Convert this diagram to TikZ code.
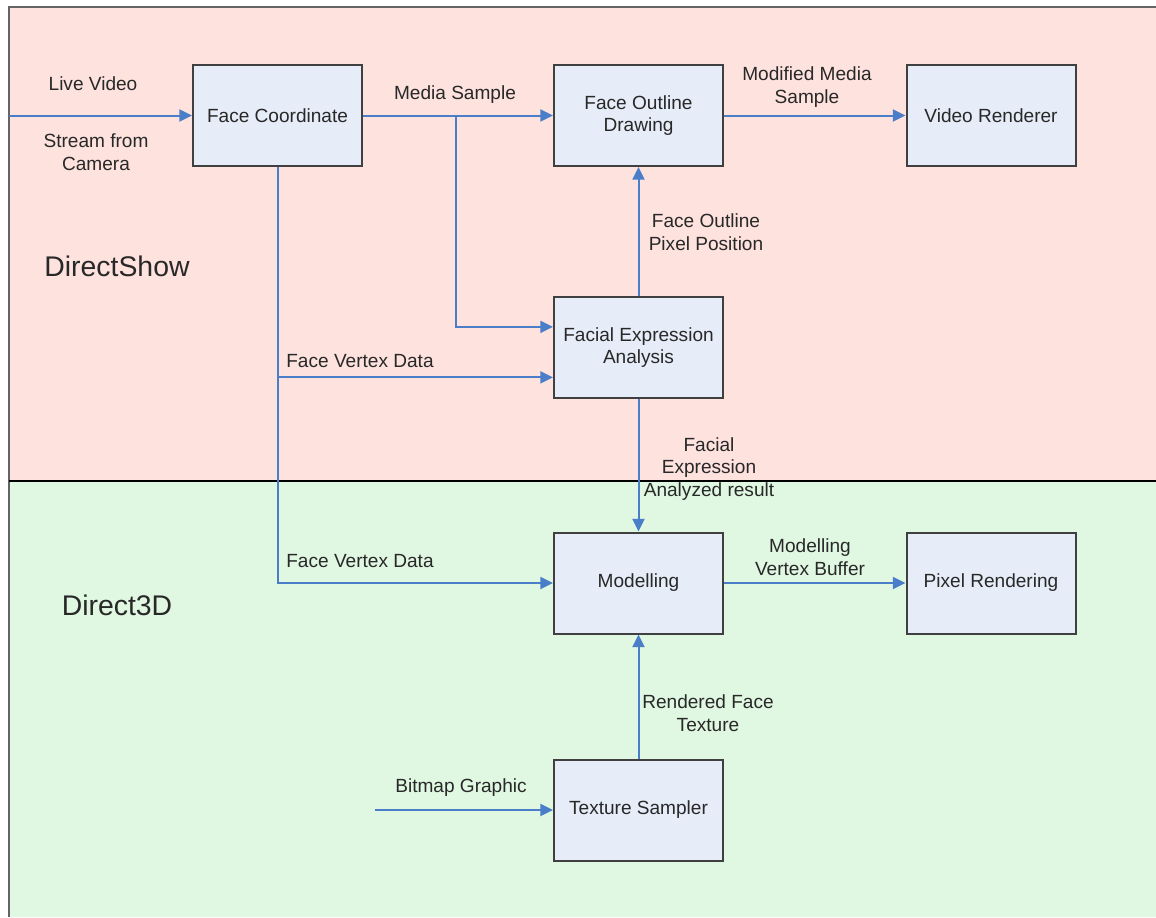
\documentclass[tikz,border=0pt]{standalone}
\usepackage{fontspec}
\setmainfont{Liberation Sans}
\usetikzlibrary{arrows.meta,calc}
\definecolor{pinkbg}{RGB}{253,226,222}
\definecolor{greenbg}{RGB}{224,247,226}
\definecolor{boxfill}{RGB}{230,236,248}
\definecolor{boxline}{RGB}{64,64,64}
\definecolor{frameline}{RGB}{100,100,100}
\definecolor{arrowblue}{RGB}{74,126,200}
\definecolor{txt}{RGB}{40,40,40}
\begin{document}
\begin{tikzpicture}[x=0.75pt,y=-0.75pt,
 blockbox/.style={draw=boxline, line width=1.5pt, fill=boxfill, minimum width=126.75pt, minimum height=75.75pt, inner sep=0pt, align=center, font=\fontsize{14.3}{16.5}\selectfont, text=txt},
 flow/.style={draw=arrowblue, line width=1.5pt, -{Triangle[length=9.5pt,width=9pt]}},
 lbl/.style={align=center, font=\fontsize{14.3}{16.8}\selectfont, text=txt, inner sep=0pt},
 zone/.style={font=\fontsize{21.3}{24}\selectfont, text=txt, inner sep=0pt}]
\useasboundingbox (0,0) rectangle (1156,917);
\fill[white] (0,0) rectangle (1156,917);
\fill[pinkbg] (9,7) rectangle (1156,481);
\fill[greenbg] (9,481) rectangle (1156,917);
\draw[frameline, line width=2.2pt] (9,917) -- (9,7) -- (1156,7);
\draw[black, line width=1.5pt] (9,481) -- (1156,481);

\node[zone] (zshow) at (117,266) {DirectShow};
\node[zone] (z3d) at (117,605) {Direct3D};

\node[blockbox] (fc) at (277.5,115.5) {Face Coordinate};
\node[blockbox] (fod) at (638.5,115.5) {Face Outline\\Drawing};
\node[blockbox] (vr) at (991,115.5) {Video Renderer};
\node[blockbox] (fea) at (638.5,347.5) {Facial Expression\\Analysis};
\node[blockbox] (mod) at (638.5,583) {Modelling};
\node[blockbox] (pr) at (991,583) {Pixel Rendering};
\node[blockbox] (ts) at (638.5,810) {Texture Sampler};

\coordinate (livein) at (9,115.5);
\coordinate (bmpin) at (375,810);
\coordinate (ms) at (456,115.5);
\coordinate (feaup) at ($(fea.north west)!0.3!(fea.south west)$);
\coordinate (fealow) at ($(fea.north west)!0.79!(fea.south west)$);

\draw[flow] (livein) -- (fc.west);
\draw[flow] (fc.east) -- (fod.west);
\draw[flow] (ms) |- (feaup);
\draw[flow] (fod.east) -- (vr.west);
\draw[flow] (fea.north) -- (fod.south);
\draw[flow] (fc.south) |- (fealow);
\draw[flow] (fc.south) |- (mod.west);
\draw[flow] (fea.south) -- (mod.north);
\draw[flow] (mod.east) -- (pr.west);
\draw[flow] (ts.north) -- (mod.south);
\draw[flow] (bmpin) -- (ts.west);

\node[lbl] (l1) at (93,84) {Live Video};
\node[lbl] (l2) at (96,152) {Stream from\\Camera};
\node[lbl] (l3) at (455,95) {Media Sample};
\node[lbl] (l4) at (807,87) {Modified Media\\Sample};
\node[lbl] (l5) at (706,232) {Face Outline\\Pixel Position};
\node[lbl] (l6) at (360,361) {Face Vertex Data};
\node[lbl] (l7) at (709,469) {Facial\\Expression\\Analyzed result};
\node[lbl] (l8) at (360,561) {Face Vertex Data};
\node[lbl] (l9) at (810,557) {Modelling\\Vertex Buffer};
\node[lbl] (l10) at (708,713) {Rendered Face\\Texture};
\node[lbl] (l11) at (461,788) {Bitmap Graphic};
\end{tikzpicture}
\end{document}
